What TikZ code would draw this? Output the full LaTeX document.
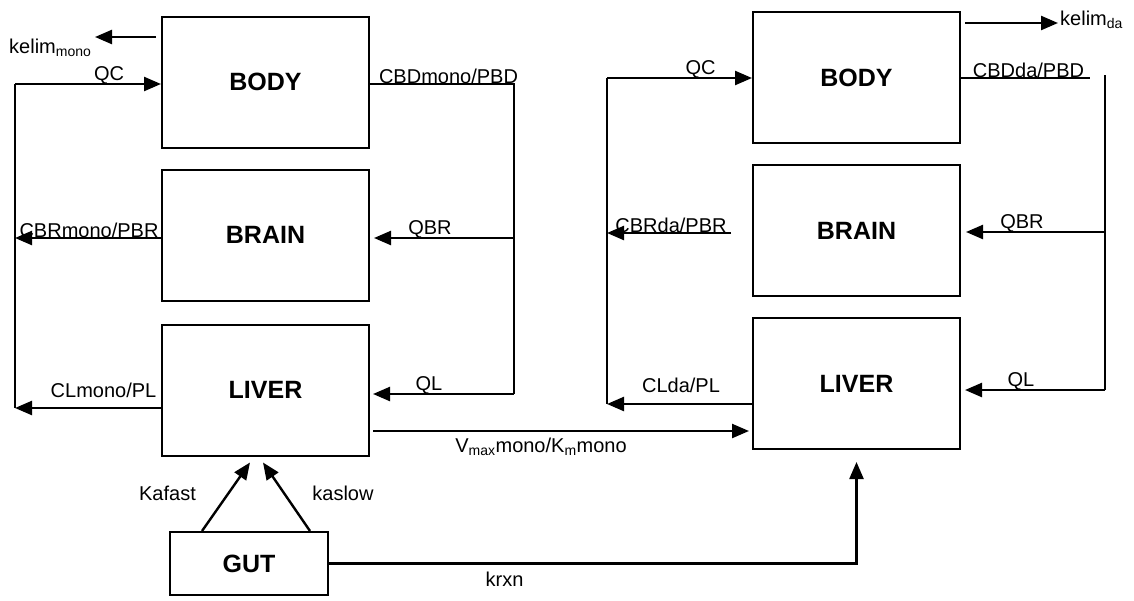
\documentclass[tikz,border=0pt]{standalone}
\usepackage{fontspec}
\setmainfont{Liberation Sans}
\usetikzlibrary{positioning,arrows.meta,calc}

\tikzset{
  organ/.style={draw, line width=2pt, minimum width=207pt, minimum height=131pt,
                font=\fontsize{25}{30}\selectfont\bfseries},
  pipe/.style={line width=2.4pt},
  flow/.style={line width=2.4pt, -{Triangle[length=17pt,width=14pt]}},
  lbl/.style={font=\fontsize{20}{24}\selectfont, inner sep=1pt},
}

\begin{document}
\begin{tikzpicture}[x=1pt, y=-1pt, node distance=20pt]
  \useasboundingbox (0,0) rectangle (1134,600);

  % mono model
  \node[organ] (lbody) at (265.5,82) {BODY};
  \node[organ, below=20pt of lbody] (lbrain) {BRAIN};
  \node[organ, below=22pt of lbrain] (lliver) {LIVER};
  \node[organ, minimum width=158pt, minimum height=63pt] (gut) at (249,563.5) {GUT};

  % da model
  \node[organ] (rbody) at (856.5,77.5) {BODY};
  \node[organ, below=20pt of rbody] (rbrain) {BRAIN};
  \node[organ, below=20pt of rbrain] (rliver) {LIVER};

  % bus corners
  \coordinate (lbusL1) at (15,84);
  \coordinate (lbusL2) at (15,408);
  \coordinate (lbusR1) at (514,84);
  \coordinate (lbusR2) at (514,394);
  \coordinate (lqbr) at (514,238);
  \coordinate (lkelim) at (95,37);
  \coordinate (vmax) at ([yshift=-41pt]lliver.east);
  \coordinate (rbusL1) at (607,78);
  \coordinate (rbusL2) at (607,404);
  \coordinate (rbusR1) at (1105,75);
  \coordinate (rbusR2) at (1105,390);
  \coordinate (rqbr) at (1105,232);
  \coordinate (rcbr) at (731,233);
  \coordinate (rcbd) at (1090,78);
  \coordinate (rkelim) at (1058,23);

  % mono connectors
  \draw[flow] (lbusL1) -- (lbody.west |- lbusL1);
  \draw[pipe] (lbusL1) -- (lbusL2);
  \draw[pipe] (lbody.east |- lbusR1) -- (lbusR1) -- (lbusR2);
  \draw[flow, shorten >=4pt] (lqbr) -- (lbrain.east |- lqbr);
  \draw[flow, shorten >=3pt] (lbusR2) -- (lliver.east |- lbusR2);
  \draw[flow] (lbrain.west |- lqbr) -- (lbusL1 |- lqbr);
  \draw[flow] (lliver.west |- lbusL2) -- (lbusL2);
  \draw[flow, shorten <=5pt] (lbody.west |- lkelim) -- (lkelim);
  \draw[flow, shorten <=3pt, shorten >=3pt] (vmax) -- (vmax -| rliver.west);
  \draw[flow] ([xshift=-47pt]gut.north) -- ([xshift=-15.5pt,yshift=-6pt]lliver.south);
  \draw[flow] ([xshift=61pt]gut.north) -- ([xshift=-2.5pt,yshift=-6pt]lliver.south);
  \draw[flow] (gut.east) -- (gut.east -| rliver.south) -- ([yshift=-12pt]rliver.south);

  % da connectors
  \draw[flow] (rbusL1) -- (rbody.west |- rbusL1);
  \draw[pipe] (rbusL1) -- (rbusL2);
  \draw[flow] (rcbr) -- (rbusL1 |- rcbr);
  \draw[flow] (rliver.west |- rbusL2) -- (rbusL2);
  \draw[pipe] (rbody.east |- rcbd) -- (rcbd);
  \draw[pipe] (rbusR1) -- (rbusR2);
  \draw[flow, shorten >=5pt] (rqbr) -- (rbrain.east |- rqbr);
  \draw[flow, shorten >=4pt] (rbusR2) -- (rliver.east |- rbusR2);
  \draw[flow, shorten <=4pt] (rbody.east |- rkelim) -- (rkelim);

  % labels
  \node[lbl, anchor=base west] (tkelimmono) at (8,53) {kelim\textsubscript{mono}};
  \node[lbl, anchor=south] (tqcl) at (109,85) {QC};
  \node[lbl, anchor=south] (tcbdmono) at (448.5,85) {CBDmono/PBD};
  \node[lbl, anchor=south] (tcbrmono) at (89,239) {CBRmono/PBR};
  \node[lbl, anchor=south] (tqbrl) at (430,239) {QBR};
  \node[lbl, anchor=south] (tqll) at (429,395) {QL};
  \node[lbl, anchor=base] (tclmono) at (103.5,397) {CLmono/PL};
  \node[lbl, anchor=north] (tvmax) at (541,437) {V\textsubscript{max}mono/K\textsubscript{m}mono};
  \node[lbl] (tkafast) at (167.5,493) {Kafast};
  \node[lbl] (tkaslow) at (343,493) {kaslow};
  \node[lbl] (tkrxn) at (504.5,579) {krxn};

  \node[lbl, anchor=base west] (tkelimda) at (1059,25) {kelim\textsubscript{da}};
  \node[lbl, anchor=south] (tqcr) at (700.5,79) {QC};
  \node[lbl, anchor=south] (tcbdda) at (1028.5,79) {CBDda/PBD};
  \node[lbl, anchor=south] (tcbrda) at (671,234) {CBRda/PBR};
  \node[lbl, anchor=south] (tqbrr) at (1022,233) {QBR};
  \node[lbl, anchor=south] (tqlr) at (1021,391) {QL};
  \node[lbl, anchor=base] (tclda) at (681,392) {CLda/PL};
\end{tikzpicture}
\end{document}
